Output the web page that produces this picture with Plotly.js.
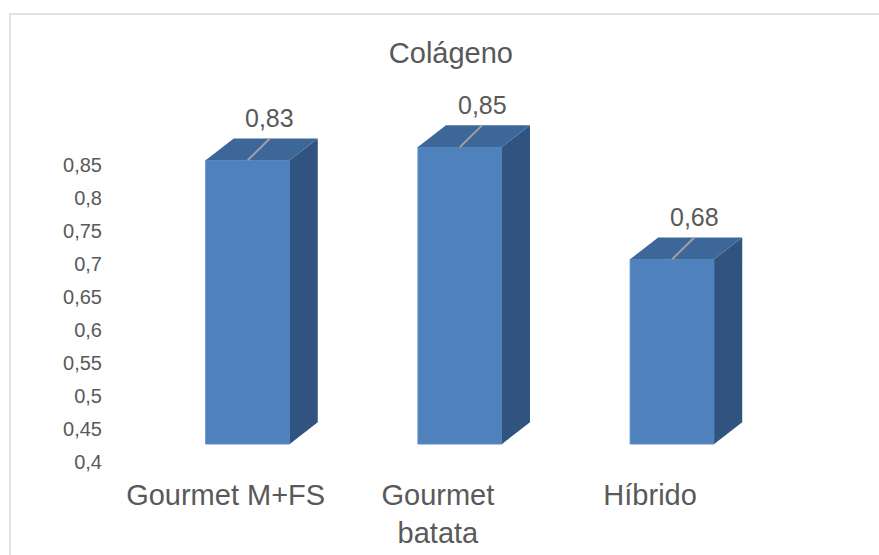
<!DOCTYPE html>
<html>
<head>
<meta charset="utf-8">
<script src="https://cdn.plot.ly/plotly-3.0.1.min.js"></script>
<style>html,body{margin:0;padding:0;background:#fff;}#chart{width:879px;height:555px;}</style>
</head>
<body>
<div id="chart"></div>
<script>
// ---- data ----
const categories = ["Gourmet M+FS", "Gourmet batata", "Híbrido"];
const tickLabels = ["Gourmet M+FS", "Gourmet<br>batata", "Híbrido"];
const values = [0.83, 0.85, 0.68];
const yTicks = [0.4, 0.45, 0.5, 0.55, 0.6, 0.65, 0.7, 0.75, 0.8, 0.85];
const baseValue = 0.4;

// ---- style ----
const FRONT = "#4F81BD", TOP = "#3C6798", SIDE = "#31537F";
const TXT = "#595959";
const FONT = "Liberation Sans, Arial, sans-serif";
const W = 0.396;      // front face width (category units)
const DX = 0.132;     // depth, x (category units)
const DY = 0.0328;    // depth, y (value units)
const LBL_DX = 0.104; // perspective shift of labels
const idx = categories.map((c, i) => i);

const traces = [];
// front faces
traces.push({
  type: "bar", x: idx, y: values.map(v => v - baseValue), base: baseValue,
  width: W, marker: {color: FRONT, line: {color: "#5A8BC6", width: 1}},
  hoverinfo: "skip", showlegend: false
});
// side and top faces
idx.forEach((i, k) => {
  const v = values[k];
  const xl = i - W / 2, xr = i + W / 2;
  traces.push({
    type: "scatter", mode: "lines", fill: "toself", fillcolor: SIDE,
    line: {width: 0, color: SIDE},
    x: [xr, xr + DX, xr + DX, xr, xr],
    y: [baseValue, baseValue + DY, v + DY, v, baseValue],
    hoverinfo: "skip", showlegend: false
  });
  traces.push({
    type: "scatter", mode: "lines", fill: "toself", fillcolor: TOP,
    line: {width: 0, color: TOP},
    x: [xl, xl + DX, xr + DX, xr, xl],
    y: [v, v + DY, v + DY, v, v],
    hoverinfo: "skip", showlegend: false
  });
  // leader line
  traces.push({
    type: "scatter", mode: "lines", line: {color: "#A0A0A0", width: 2},
    x: [i, i + LBL_DX], y: [v, v + DY],
    hoverinfo: "skip", showlegend: false
  });
});
// dummy trace for tick axis
traces.push({type: "scatter", mode: "markers", x: [null], y: [null], yaxis: "y2", showlegend: false, hoverinfo: "skip"});

const annotations = idx.map((i, k) => ({
  x: i + LBL_DX, y: values[k], xref: "x", yref: "y",
  text: String(values[k]).replace(".", ","), showarrow: false,
  yshift: 42, xanchor: "center", yanchor: "middle",
  font: {family: FONT, size: 25, color: TXT}
}));

const layout = {
  width: 879, height: 555,
  margin: {l: 110, r: 19, t: 85, b: 85},
  paper_bgcolor: "#fff", plot_bgcolor: "rgba(0,0,0,0)",
  separators: ",.",
  showlegend: false,
  title: {text: "Colágeno", x: 0.513, xanchor: "center", xref: "container",
          y: 0.905, yanchor: "middle", yref: "container",
          font: {family: FONT, size: 29, color: TXT}},
  xaxis: {range: [-0.649, 2.885], tickvals: idx.map(i => i - LBL_DX), ticktext: tickLabels,
          showgrid: false, zeroline: false, showline: false, ticks: "", ticklabelstandoff: 5,
          tickfont: {family: FONT, size: 29, color: TXT}, fixedrange: true},
  yaxis: {range: [0.36061, 0.94394], visible: false, showgrid: false, zeroline: false, fixedrange: true},
  yaxis2: {range: [0.38788, 0.97121], overlaying: "y", side: "left", tickvals: yTicks,
           showgrid: false, zeroline: false, showline: false, ticks: "", ticklabelstandoff: 7,
           tickfont: {family: FONT, size: 20, color: TXT}, fixedrange: true},
  annotations: annotations,
  shapes: [{type: "rect", xref: "paper", yref: "paper",
            x0: -0.1333, x1: 1.2, y0: -0.5, y1: 1.1844,
            line: {color: "#D9D9D9", width: 1.5}, fillcolor: "rgba(0,0,0,0)", layer: "below"}]
};

Plotly.newPlot("chart", traces, layout, {displayModeBar: false, staticPlot: true});
</script>
</body>
</html>
